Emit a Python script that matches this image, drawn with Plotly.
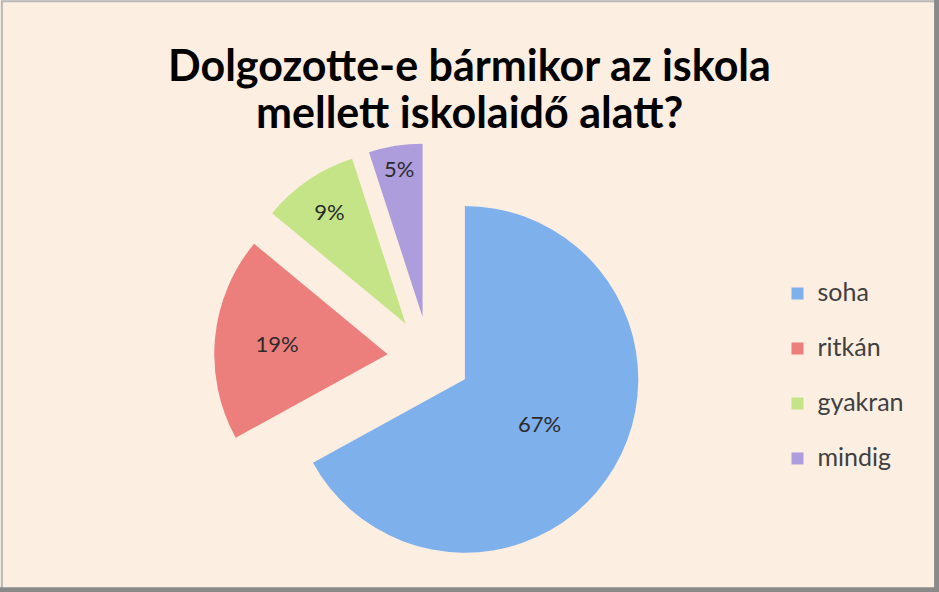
import plotly.graph_objects as go

# chart data
categories = ["soha", "ritkán", "gyakran", "mindig"]
shares = [67, 19, 9, 5]
slice_colors = ["#7eb0ec", "#ec7f7c", "#c4e487", "#ae9ddc"]
title_lines = ["Dolgozotte-e bármikor az iskola", "mellett iskolaidő alatt?"]

bg = "#fdeee2"

# legend rows in the original are spaced wide apart, so every label gets an empty second line;
# the visible word is drawn a bit larger than the legend font that sets the row height
legend_labels = ['<span style="font-size:25px">' + c + "</span><br> " for c in categories]

fig = go.Figure()

fig.add_trace(go.Pie(
    labels=legend_labels,
    values=shares,
    sort=False,
    direction="clockwise",
    rotation=0,
    pull=[0.24] * len(shares),
    marker=dict(colors=slice_colors, line=dict(width=0)),
    texttemplate="%{value}%",
    textposition="inside",
    insidetextorientation="horizontal",
    textfont=dict(family="Lato", size=22, color="#2b2b2b"),
    domain=dict(x=[0.2280, 0.6859], y=[0.030, 0.760]),
    hoverinfo="percent",
))

fig.add_annotation(text="<b>" + title_lines[0] + "</b>", x=0.5, y=1 - 65 / 592,
                   xref="paper", yref="paper", showarrow=False, yanchor="middle",
                   font=dict(family="Lato", size=43, color="#000000"))
fig.add_annotation(text="<b>" + title_lines[1] + "</b>", x=0.5, y=1 - 111 / 592,
                   xref="paper", yref="paper", showarrow=False, yanchor="middle",
                   font=dict(family="Lato", size=43, color="#000000"))

# frame: thin grey line plus a darker shadow on the right and bottom
fig.add_shape(type="rect", xref="paper", yref="paper", x0=0.002, y0=0.005, x1=0.996, y1=0.998,
              line=dict(color="#b8b8b8", width=2))
fig.add_shape(type="line", xref="paper", yref="paper", x0=0.9975, y0=0.0, x1=0.9975, y1=1.0,
              line=dict(color="#8a8a8a", width=5))
fig.add_shape(type="line", xref="paper", yref="paper", x0=0.0, y0=0.004, x1=1.0, y1=0.004,
              line=dict(color="#8a8a8a", width=5))

fig.update_layout(
    width=939,
    height=592,
    margin=dict(l=0, r=0, t=0, b=0),
    paper_bgcolor=bg,
    plot_bgcolor=bg,
    showlegend=True,
    legend=dict(
        x=0.828, y=0.343, xanchor="left", yanchor="middle",
        valign="top",
        font=dict(family="Lato", size=20, color="#404040"),
        bgcolor="rgba(0,0,0,0)",
    ),
)

fig.write_html("out.html", config={"displayModeBar": False},
               post_script="document.body.style.margin = '0';")
